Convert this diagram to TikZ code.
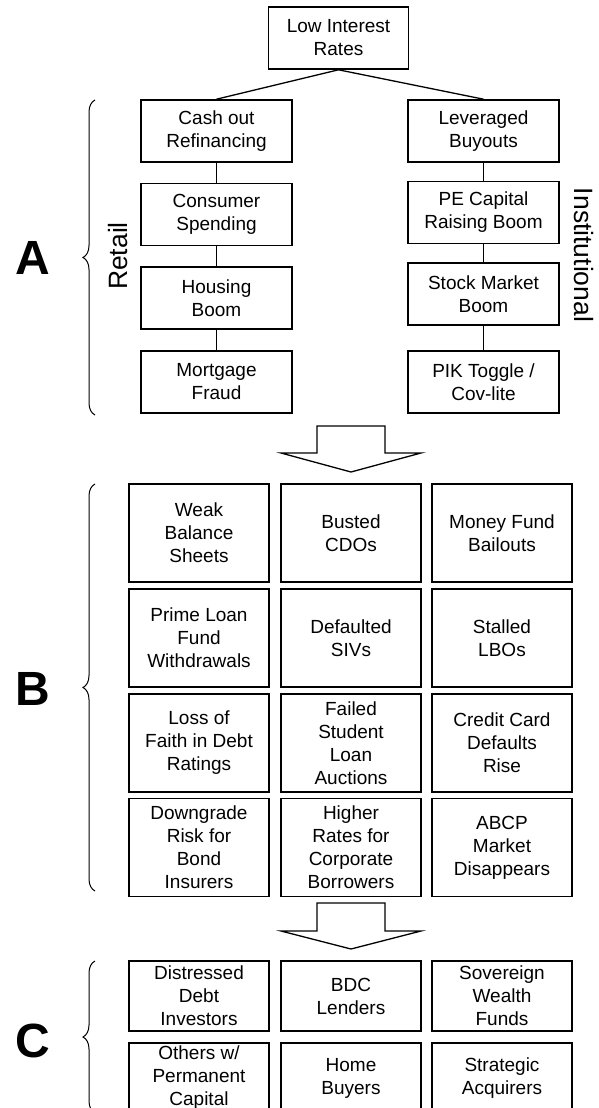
\documentclass[tikz,border=0pt]{standalone}
\usepackage{fontspec}
\setmainfont{Liberation Sans}
\usetikzlibrary{positioning, decorations.pathreplacing}

\begin{document}
\begin{tikzpicture}[
  x=1pt, y=1pt,
  every node/.style={font=\fontsize{19}{23}\selectfont},
  box/.style={draw, line width=1.6pt, align=center, inner sep=0pt},
  chainbox/.style={box, minimum width=151pt, minimum height=62pt},
  gridbox/.style={box, minimum width=140pt, minimum height=98pt},
  buyerbox/.style={box, minimum width=140pt, minimum height=70pt},
  link/.style={line width=1.3pt},
  curly/.style={line width=1pt, decorate, decoration={brace, amplitude=12pt}},
  bigarrow/.style={draw, fill=white, line width=1.3pt, line join=miter},
  letter/.style={font=\fontsize{48}{48}\selectfont\bfseries},
  side/.style={font=\fontsize{26.5}{26.5}\selectfont}
]
\useasboundingbox (0,0) rectangle (599,-1108);

% Stage A: cheap money
\node[box, minimum width=140pt, minimum height=62pt] (rates) at (338.5,-38) {Low Interest\\Rates};

\node[chainbox] (cashout) at (216.5,-131) {Cash out\\Refinancing};
\node[chainbox] (spending) at (216.5,-214.5) {Consumer\\Spending};
\node[chainbox] (housing) at (216.5,-298) {Housing\\Boom};
\node[chainbox] (fraud) at (216.5,-382) {Mortgage\\Fraud};

\node[chainbox] (lbo) at (483.5,-131) {Leveraged\\Buyouts};
\node[chainbox] (peboom) at (483.5,-212.5) {PE Capital\\Raising Boom};
\node[chainbox] (stockboom) at (483.5,-294) {Stock Market\\Boom};
\node[chainbox] (pik) at (483.5,-382) {PIK Toggle /\\Cov-lite};

\draw[link] (rates.south) -- (cashout.north);
\draw[link] (rates.south) -- (lbo.north);
\draw[link] (cashout) -- (spending);
\draw[link] (spending) -- (housing);
\draw[link] (housing) -- (fraud);
\draw[link] (lbo) -- (peboom);
\draw[link] (peboom) -- (stockboom);
\draw[link] (stockboom) -- (pik);

\node[side, rotate=90] (retail) at (118,-256) {Retail};
\node[side, rotate=-90] (institutional) at (584,-255) {Institutional};
\draw[curly] (95,-415) -- (95,-100);
\node[letter] (stageA) at (33,-258) {A};

% Arrow A -> B
\draw[bigarrow] (317,-426) -- (385,-426) -- (385,-453) -- (421,-453) -- (351,-472)
  -- (281,-453) -- (317,-453) -- cycle;

% Stage B: credit crunch
\node[gridbox] (weak) at (199,-533) {Weak\\Balance\\Sheets};
\node[gridbox] (cdos) at (351,-533) {Busted\\CDOs};
\node[gridbox] (moneyfund) at (502,-533) {Money Fund\\Bailouts};
\node[gridbox] (primeloan) at (199,-638) {Prime Loan\\Fund\\Withdrawals};
\node[gridbox] (sivs) at (351,-638) {Defaulted\\SIVs};
\node[gridbox] (lbos) at (502,-638) {Stalled\\LBOs};
\node[gridbox] (faith) at (199,-743) {Loss of\\Faith in Debt\\Ratings};
\node[gridbox] (auctions) at (351,-743) {Failed\\Student\\Loan\\Auctions};
\node[gridbox] (cards) at (502,-743) {Credit Card\\Defaults\\Rise};
\node[gridbox] (downgrade) at (199,-847.5) {Downgrade\\Risk for\\Bond\\Insurers};
\node[gridbox] (higher) at (351,-847.5) {Higher\\Rates for\\Corporate\\Borrowers};
\node[gridbox] (abcp) at (502,-847.5) {ABCP\\Market\\Disappears};

\draw[curly] (95,-891) -- (95,-484);
\node[letter] (stageB) at (33,-689) {B};

% Arrow B -> C
\draw[bigarrow] (317,-903) -- (385,-903) -- (385,-931) -- (421,-931) -- (351,-949)
  -- (281,-931) -- (317,-931) -- cycle;

% Stage C: buyers
\node[buyerbox] (distressed) at (199,-996) {Distressed\\Debt\\Investors};
\node[buyerbox] (bdc) at (351,-996) {BDC\\Lenders};
\node[buyerbox] (swf) at (502,-996) {Sovereign\\Wealth\\Funds};
\node[buyerbox] (others) at (199,-1078) {Others w/\\Permanent\\Capital};
\node[buyerbox] (homebuyers) at (351,-1078) {Home\\Buyers};
\node[buyerbox] (acquirers) at (502,-1078) {Strategic\\Acquirers};

\draw[curly] (95,-1113) -- (95,-961);
\node[letter] (stageC) at (33,-1041) {C};

\end{tikzpicture}
\end{document}
